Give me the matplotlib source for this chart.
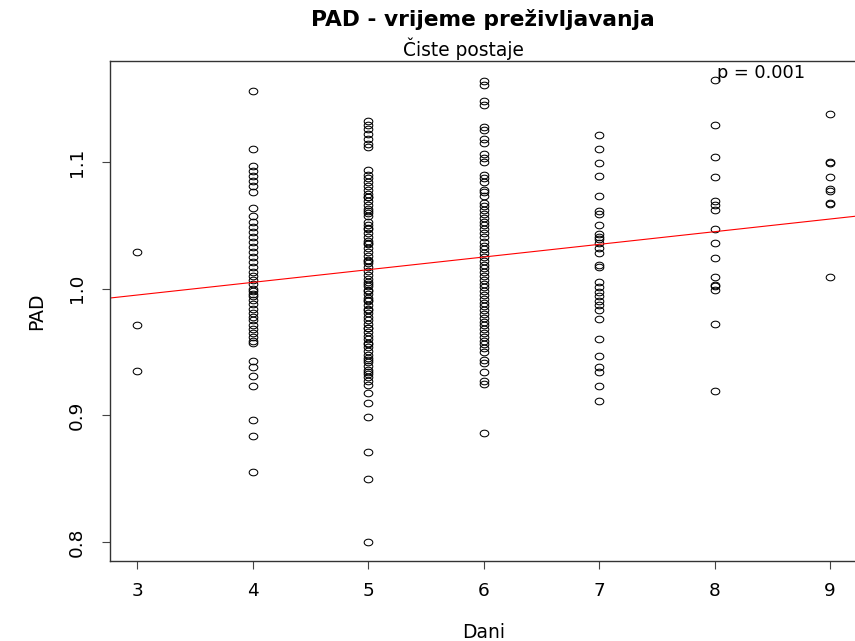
import matplotlib
matplotlib.use("Agg")
import matplotlib.pyplot as plt
from matplotlib.path import Path
import numpy as np

plt.rcParams['font.family'] = ['DejaVu Sans']

# PAD vrijednosti po broju dana (ocitano sa slike)
pad_3 = [1.029, 0.971, 0.935]
pad_4 = [1.156, 1.110, 1.097, 1.093, 1.089, 1.085, 1.081, 1.076, 1.064, 1.057,
         1.053, 1.049, 1.045, 1.041, 1.037, 1.033, 1.029, 1.025, 1.021, 1.017,
         1.013, 1.010, 1.007, 1.004, 1.000, 0.998, 0.996, 0.994, 0.991, 0.988,
         0.984, 0.981, 0.978, 0.975, 0.971, 0.968, 0.965, 0.962, 0.959, 0.957,
         0.943, 0.938, 0.931, 0.923, 0.896, 0.884, 0.855]
pad_5 = [1.132, 1.129, 1.126, 1.122, 1.118, 1.114, 1.112,
         1.094, 1.090, 1.087, 1.084, 1.081, 1.078, 1.075, 1.072, 1.072, 1.069,
         1.066, 1.063, 1.061, 1.060, 1.057, 1.053, 1.050, 1.048, 1.047, 1.044,
         1.041, 1.038, 1.036, 1.035, 1.032, 1.029, 1.026, 1.023, 1.022, 1.020,
         1.017, 1.014, 1.011, 1.008, 1.005, 1.004, 1.002, 0.999, 0.998, 0.996,
         0.993, 0.991, 0.990, 0.987, 0.984, 0.983, 0.981, 0.978, 0.975, 0.972,
         0.969, 0.969, 0.966, 0.963, 0.960, 0.957, 0.956, 0.954, 0.951, 0.948,
         0.945, 0.944, 0.942, 0.939, 0.936, 0.934, 0.933, 0.930, 0.927,
         0.924, 0.918, 0.910, 0.899, 0.871, 0.850, 0.800]
pad_6 = [1.164, 1.161, 1.148, 1.145, 1.128, 1.125, 1.118, 1.115, 1.106, 1.103,
         1.100, 1.090, 1.087, 1.084, 1.078, 1.076, 1.073,
         1.068, 1.065, 1.062, 1.059, 1.056, 1.053, 1.050, 1.047, 1.044, 1.041,
         1.037, 1.034, 1.031, 1.028, 1.025, 1.022, 1.019, 1.016, 1.013, 1.010,
         1.007, 1.004, 1.001, 0.998, 0.995, 0.992, 0.989, 0.986, 0.983, 0.980,
         0.977, 0.974, 0.971, 0.968, 0.965, 0.962, 0.959, 0.956, 0.953, 0.950,
         0.944, 0.941, 0.934, 0.927, 0.925, 0.886]
pad_7 = [1.121, 1.110, 1.099, 1.089, 1.073, 1.061, 1.059, 1.050, 1.043, 1.041,
         1.039, 1.036, 1.032, 1.028, 1.019, 1.017, 1.005, 1.001, 0.997, 0.994,
         0.990, 0.987, 0.983, 0.976, 0.960, 0.947, 0.938, 0.934, 0.923, 0.911]
pad_8 = [1.165, 1.129, 1.104, 1.088, 1.069, 1.066, 1.062, 1.047, 1.036, 1.024,
         1.009, 1.003, 1.002, 0.999, 0.972, 0.919]
pad_9 = [1.138, 1.100, 1.099, 1.088, 1.079, 1.077, 1.068, 1.067, 1.009]

dani = [3, 4, 5, 6, 7, 8, 9]
pad_po_danu = [pad_3, pad_4, pad_5, pad_6, pad_7, pad_8, pad_9]

# linearni model (ocitano sa slike)
intercept = 0.965
slope = 0.010
p_tekst = "p = 0.001"

x = np.concatenate([np.full(len(v), d) for d, v in zip(dani, pad_po_danu)])
y = np.concatenate(pad_po_danu)

# slika je malo razvucena vodoravno, pa su kruzici elipse
t = np.linspace(0, 2 * np.pi, 60)
elipsa = Path(np.column_stack([1.3 * np.cos(t), np.sin(t)]), closed=True)

fig = plt.figure(figsize=(8.55, 6.41), dpi=100)
ax = fig.add_axes([109.7 / 855, 80 / 641, 748 / 855, 500.3 / 641])

ax.plot(x, y, linestyle='none', marker=elipsa, mfc='none', mec='black', ms=6.2, mew=0.75)

xlim = (2.76, 9.24)
xx = np.array(xlim)
ax.plot(xx, intercept + slope * xx, color='red', lw=0.8)
ax.text(8.4, 1.170, p_tekst, ha='center', va='center', fontsize=12.8)

ax.set_xlim(xlim)
ax.set_ylim(0.785, 1.180)
ax.set_xticks(dani)
ax.set_yticks([0.8, 0.9, 1.0, 1.1])
ax.set_yticklabels(['0.8', '0.9', '1.0', '1.1'], rotation=90, va='center')
ax.tick_params(labelsize=13.3, length=6, width=0.8, color='#444444')
ax.tick_params(axis='x', pad=9)
ax.tick_params(axis='y', pad=11)
for s in ax.spines.values():
    s.set_linewidth(1.0)
    s.set_color('#333333')

ax.set_xlabel('Dani', fontsize=13.5, labelpad=17)
ax.set_ylabel('PAD', fontsize=13.5, labelpad=16)

fig.text(0.565, 0.969, 'PAD - vrijeme preživljavanja', ha='center', va='center',
         fontsize=15.7, fontweight='bold')
fig.text(463 / 855, 0.9236, 'Čiste postaje', ha='center', va='center', fontsize=13.4)

fig.savefig('out.png', dpi=100)
